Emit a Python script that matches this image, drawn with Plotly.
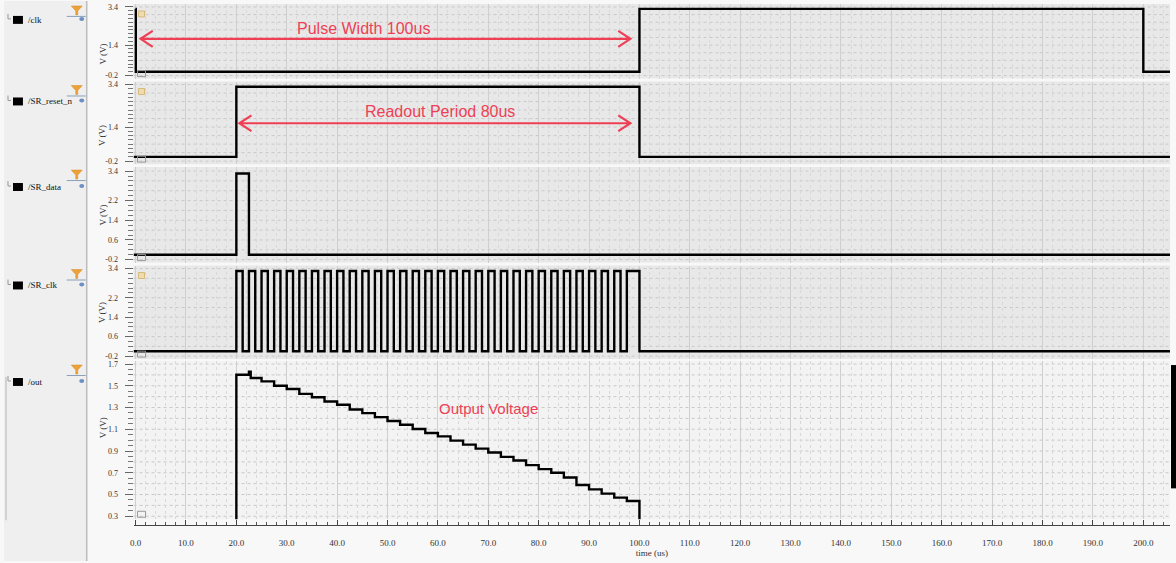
import plotly.graph_objects as go

W, H = 1176, 563

# ---------------- data ----------------
t_start, t_end = -0.4, 205.3

signal_names = ["/clk", "/SR_reset_n", "/SR_data", "/SR_clk", "/out"]

clk_t = [0.0, 0.05, 100.0, 200.0, t_end]
clk_v = [3.3, 0.0, 3.3, 0.0, 0.0]

reset_t = [t_start, 20.0, 100.0, t_end]
reset_v = [0.0, 3.3, 0.0, 0.0]

data_t = [t_start, 20.0, 22.5, t_end]
data_v = [0.0, 3.3, 0.0, 0.0]

sr_clk_high = 3.3
sr_clk_rise = [20.0, 22.5, 25.0, 27.5, 30.0, 32.5, 35.0, 37.5, 40.0, 42.5, 45.0,
               47.5, 50.0, 52.5, 55.0, 57.5, 60.0, 62.5, 65.0, 67.5, 70.0, 72.5,
               75.0, 77.5, 80.0, 82.5, 85.0, 87.5, 90.0, 92.5, 95.0, 97.5]
sr_clk_fall = [21.25, 23.75, 26.25, 28.75, 31.25, 33.75, 36.25, 38.75, 41.25,
               43.75, 46.25, 48.75, 51.25, 53.75, 56.25, 58.75, 61.25, 63.75,
               66.25, 68.75, 71.25, 73.75, 76.25, 78.75, 81.25, 83.75, 86.25,
               88.75, 91.25, 93.75, 96.25, 100.0]

out_step_t = [20.0, 22.5, 25.0, 27.5, 30.0, 32.5, 35.0, 37.5, 40.0, 42.5, 45.0,
              47.5, 50.0, 52.5, 55.0, 57.5, 60.0, 62.5, 65.0, 67.5, 70.0, 72.5,
              75.0, 77.5, 80.0, 82.5, 85.0, 87.5, 90.0, 92.5, 95.0, 97.5]
out_levels = [1.602, 1.572, 1.541, 1.501, 1.471, 1.426, 1.395, 1.355, 1.325,
              1.282, 1.249, 1.212, 1.176, 1.142, 1.102, 1.066, 1.035, 0.996,
              0.959, 0.922, 0.886, 0.846, 0.813, 0.770, 0.733, 0.700, 0.657,
              0.587, 0.547, 0.508, 0.471, 0.440]
out_end_t = 100.0
out_glitch_t = [22.5]
out_glitch_v = [1.63]
out_low = 0.0

ytick_vals = [[-0.2, 1.4, 3.4], [-0.2, 1.4, 3.4],
              [-0.2, 0.6, 1.4, 2.2, 3.4], [-0.2, 0.6, 1.4, 2.2, 3.4],
              [0.3, 0.5, 0.7, 0.9, 1.1, 1.3, 1.5, 1.7]]
ytick_text = [["-0.2", "1.4", "3.4"], ["-0.2", "1.4", "3.4"],
              ["-0.2", "0.6", "1.4", "2.2", "3.4"], ["-0.2", "0.6", "1.4", "2.2", "3.4"],
              ["0.3", "0.5", "0.7", "0.9", "1.1", "1.3", "1.5", "1.7"]]

# ---------------- build step series ----------------
sr_x, sr_y = [t_start], [0.0]
for r, f in zip(sr_clk_rise, sr_clk_fall):
    sr_x += [r, f]
    sr_y += [sr_clk_high, 0.0]
sr_x.append(t_end); sr_y.append(0.0)

glitch = dict(zip(out_glitch_t, out_glitch_v))
out_x, out_y = [t_start], [out_low]
for t, v in zip(out_step_t, out_levels):
    if t in glitch:
        out_x += [t, t + 0.35]
        out_y += [glitch[t], v]
    else:
        out_x.append(t); out_y.append(v)
out_x += [out_end_t, t_end]
out_y += [out_low, out_low]

series = [(clk_t, clk_v), (reset_t, reset_v), (data_t, data_v), (sr_x, sr_y), (out_x, out_y)]

# ---------------- layout helpers ----------------
def px(x):
    return x / W

def py(y):
    return 1 - y / H

# (value_top, pixel_top, value_bottom, pixel_bottom, domain_top_px, domain_bottom_px)
panels = [
    (3.4, 6, -0.2, 75, 3, 78),
    (3.4, 84, -0.2, 161, 81, 164),
    (3.4, 171, -0.2, 260, 167, 263),
    (3.4, 269, -0.2, 357, 266, 360),
    (1.7, 365, 0.3, 518, 362, 521),
]
panel_bg = ["#e8e8e8", "#e8e8e8", "#e8e8e8", "#e8e8e8", "#f3f3f3"]
minor_dt = [0.2, 0.2, 0.2, 0.2, 0.05]
minor_t0 = [-0.2, -0.2, -0.2, -0.2, 0.3]
grid_dt = [0.4, 0.4, 0.4, 0.4, 0.1]

serif = "Liberation Serif"
sans = "Liberation Sans"
red = "#ee3f55"

fig = go.Figure()
yrefs = ["y", "y2", "y3", "y4", "y5"]
for i, (xs, ys) in enumerate(series):
    fig.add_trace(go.Scatter(x=xs, y=ys, mode="lines",
                             line=dict(color="black", width=2.4, shape="hv"),
                             xaxis="x", yaxis=yrefs[i], showlegend=False,
                             hoverinfo="skip"))

layout = dict(
    width=W, height=H, autosize=False,
    margin=dict(l=0, r=0, t=0, b=0),
    paper_bgcolor="#f8f8f8", plot_bgcolor="rgba(0,0,0,0)",
    showlegend=False,
    xaxis=dict(domain=[px(130), px(1170)], range=[t_start, t_end],
               anchor="free", position=py(527),
               tick0=0, dtick=10, tickformat=".1f",
               ticks="inside", ticklen=5, tickcolor="#444",
               showline=True, linecolor="#444", linewidth=1,
               showgrid=True, gridcolor="#cfcfcf", gridwidth=1, zeroline=False,
               minor=dict(dtick=2, ticks="inside", ticklen=3, tickcolor="#555",
                          showgrid=True, gridcolor="#d9d9d9", griddash="dot"),
               ticklabelstandoff=9,
               tickfont=dict(family=serif, size=9, color="#333"),
               title=dict(text="time (us)", font=dict(family=serif, size=9, color="#333"),
                          standoff=1)),
)
shapes = []
annotations = []
for i, (vt, pt, vb, pb, dt, db) in enumerate(panels):
    scale = (pb - pt) / (vt - vb)
    top = vt + (pt - dt) / scale
    bot = vb - (db - pb) / scale
    key = "yaxis" if i == 0 else f"yaxis{i+1}"
    layout[key] = dict(
        domain=[py(db), py(dt)], range=[bot, top], anchor="x",
        tickvals=ytick_vals[i], ticktext=ytick_text[i],
        ticks="outside", ticklen=8, tickcolor="#666",
        showgrid=False, zeroline=False, showline=False,
        minor=dict(tick0=minor_t0[i], dtick=minor_dt[i], ticks="outside", ticklen=5,
                   tickcolor="#777", showgrid=False),
        ticklabelstandoff=5,
        tickfont=dict(family=serif, size=8, color="#333"),
    )
    yr = yrefs[i]
    shapes.append(dict(type="rect", xref="x domain", yref=f"{yr} domain",
                       x0=0, x1=1, y0=0, y1=1, fillcolor=panel_bg[i],
                       line=dict(width=0), layer="below"))
    # y axis title
    annotations.append(dict(text="V (V)", textangle=-90, xref="paper", yref="paper",
                            x=px(92), y=py((dt + db) / 2), showarrow=False,
                            font=dict(family=serif, size=9, color="#333")))
    # small icons inside panel corners
    shapes.append(dict(type="rect", xref="paper", yref="paper",
                       x0=px(134), x1=px(142), y0=py(db - 2), y1=py(db - 8),
                       line=dict(color="#999", width=1), fillcolor="rgba(0,0,0,0)"))
    if i in (0, 1, 3):
        shapes.append(dict(type="rect", xref="paper", yref="paper",
                           x0=px(135), x1=px(141), y0=py(dt + 13), y1=py(dt + 7),
                           line=dict(color="#d6b97a", width=1), fillcolor="#efdcae"))

# horizontal dotted grid lines inside each panel (styling)
for i, (vt, pt, vb, pb, dt, db) in enumerate(panels):
    g = vb
    while g <= vt + 1e-9:
        shapes.append(dict(type="line", xref="x domain", yref=yrefs[i], x0=0, x1=1,
                           y0=g, y1=g, line=dict(color="#c8c8c8", width=1, dash="dot"),
                           layer="below"))
        g += grid_dt[i]

# ---------------- left sidebar ----------------
shapes.append(dict(type="rect", xref="paper", yref="paper", x0=0, x1=px(83), y0=0, y1=1,
                   fillcolor="#efefef", line=dict(width=0), layer="below"))
shapes.append(dict(type="line", xref="paper", yref="paper", x0=px(83), x1=px(83), y0=0, y1=1,
                   line=dict(color="#bcbcbc", width=1.5)))
shapes.append(dict(type="line", xref="paper", yref="paper", x0=px(2), x1=px(2),
                   y0=py(378), y1=py(522), line=dict(color="#b5b5b5", width=1)))
name_y = [19, 101, 187, 286, 383]
funnel_y = [5, 85, 170, 270, 366]
eye_y = [18, 100, 186, 285, 382]
for name, ny, fy, ey in zip(signal_names, name_y, funnel_y, eye_y):
    shapes.append(dict(type="rect", xref="paper", yref="paper",
                       x0=px(9), x1=px(19), y0=py(ny + 4), y1=py(ny - 4),
                       fillcolor="black", line=dict(width=0)))
    shapes.append(dict(type="path", xref="paper", yref="paper",
                       path=f"M {px(4)},{py(ny-6)} L {px(4)},{py(ny-1)} L {px(7)},{py(ny-1)}",
                       line=dict(color="#999", width=1)))
    annotations.append(dict(text=name, xref="paper", yref="paper", x=px(22), y=py(ny),
                            xanchor="left", yanchor="middle", showarrow=False,
                            font=dict(family=serif, size=9, color="#111")))
    # funnel icon
    shapes.append(dict(type="path", xref="paper", yref="paper",
                       path=(f"M {px(67.5)},{py(fy)} L {px(78.5)},{py(fy)} L {px(74)},{py(fy+5)} "
                             f"L {px(74)},{py(fy+9)} L {px(72)},{py(fy+9)} L {px(72)},{py(fy+5)} Z"),
                       fillcolor="#eda13a", line=dict(color="#d98a20", width=0.5)))
    shapes.append(dict(type="line", xref="paper", yref="paper",
                       x0=px(63), x1=px(82), y0=py(fy + 10.5), y1=py(fy + 10.5),
                       line=dict(color="#8aa0bb", width=1)))
    shapes.append(dict(type="circle", xref="paper", yref="paper",
                       x0=px(75.5), x1=px(80.5), y0=py(ey + 2), y1=py(ey - 2),
                       fillcolor="#6c8fc4", line=dict(width=0)))

# right-side black bar
shapes.append(dict(type="rect", xref="paper", yref="paper", x0=px(1171), x1=px(1176),
                   y0=py(490), y1=py(366), fillcolor="black", line=dict(width=0)))

# ---------------- red annotations ----------------
def double_arrow(x0, x1, y, yref, head_dx, head_dy):
    p = (f"M {x0},{y} L {x1},{y} "
         f"M {x0 + head_dx},{y + head_dy} L {x0},{y} L {x0 + head_dx},{y - head_dy} "
         f"M {x1 - head_dx},{y + head_dy} L {x1},{y} L {x1 - head_dx},{y - head_dy}")
    return dict(type="path", xref="x", yref=yref, path=p, line=dict(color=red, width=2.2))

shapes.append(double_arrow(1.0, 98.2, 1.73, "y", 2.4, 0.42))
shapes.append(double_arrow(20.6, 98.2, 1.58, "y2", 2.4, 0.37))
annotations.append(dict(text="Pulse Width 100us", xref="x", yref="y", x=45.2, y=2.25,
                        showarrow=False, font=dict(family=sans, size=16, color=red)))
annotations.append(dict(text="Readout Period 80us", xref="x", yref="y2", x=60.4, y=2.14,
                        showarrow=False, font=dict(family=sans, size=16, color=red)))
annotations.append(dict(text="Output Voltage", xref="x", yref="y5", x=70.1, y=1.288,
                        showarrow=False, font=dict(family=sans, size=15, color=red)))

layout["shapes"] = shapes
layout["annotations"] = annotations
fig.update_layout(**layout)

fig.write_html("out.html", config={"displayModeBar": False})
